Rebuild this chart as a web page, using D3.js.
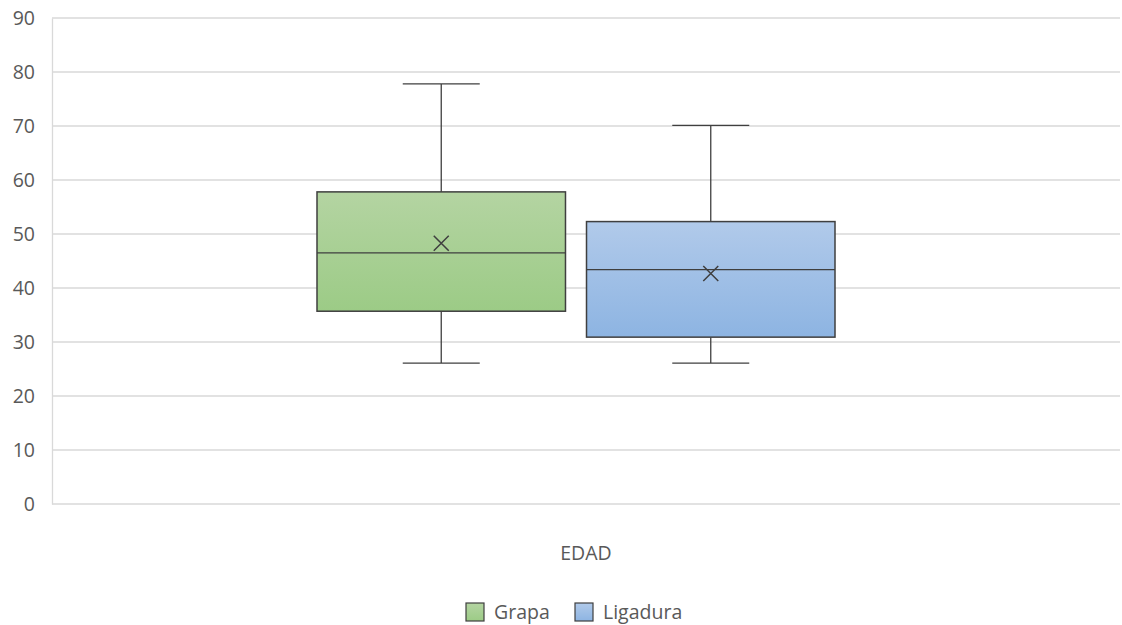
<!DOCTYPE html>
<html>
<head>
<meta charset="utf-8">
<script src="https://cdn.jsdelivr.net/npm/d3@7"></script>
<style>
  body { margin: 0; background: #fff; }
  svg text { font-family: "Open Sans", "DejaVu Sans", sans-serif; fill: #595959; }
</style>
</head>
<body>
<svg id="chart" width="1122" height="625"></svg>
<script>
// Age distribution per surgical technique
const categories = ["EDAD"];
const seriesNames = ["Grapa", "Ligadura"];
const minValues = [26.1, 26.1];
const q1Values = [35.7, 30.9];
const medianValues = [46.5, 43.4];
const q3Values = [57.8, 52.3];
const maxValues = [77.8, 70.1];
const meanValues = [48.3, 42.7];
const yTicks = [0, 10, 20, 30, 40, 50, 60, 70, 80, 90];

const fills = [["#b4d4a2", "#9ccb86"], ["#b1caea", "#8db4e2"]];
const strokeColor = "#3f3f3f";
const fontSize = "19.5px";

const svg = d3.select("#chart");
const plot = { left: 52, right: 1120, top: 18, bottom: 504 };

const y = d3.scaleLinear().domain([0, 90]).range([plot.bottom, plot.top]);
const x0 = d3.scaleBand().domain(categories).range([plot.left, plot.right]);
const x1 = d3.scaleBand().domain(seriesNames)
  .range([265, 783]).paddingInner(0.078);

// gradients
const defs = svg.append("defs");
seriesNames.forEach((s, i) => {
  const g = defs.append("linearGradient").attr("id", "grad" + i)
    .attr("x1", 0).attr("y1", 0).attr("x2", 0).attr("y2", 1);
  g.append("stop").attr("offset", "0%").attr("stop-color", fills[i][0]);
  g.append("stop").attr("offset", "100%").attr("stop-color", fills[i][1]);
});

// gridlines
svg.append("g").selectAll("line").data(yTicks).join("line")
  .attr("x1", plot.left).attr("x2", plot.right)
  .attr("y1", d => y(d)).attr("y2", d => y(d))
  .attr("stroke", "#d9d9d9").attr("stroke-width", 1.3);

// y axis
const yAxis = svg.append("g").attr("transform", `translate(${plot.left},0)`)
  .call(d3.axisLeft(y).tickValues(yTicks).tickSize(0).tickPadding(17));
yAxis.select(".domain").attr("stroke", "#d9d9d9").attr("stroke-width", 1.3);
yAxis.selectAll("text").style("font-size", fontSize).attr("fill", "#595959")
  .attr("dy", "0.35em");

// category label
svg.append("g").attr("transform", `translate(0,${plot.bottom})`)
  .call(d3.axisBottom(x0).tickSize(0).tickPadding(42))
  .call(g => g.select(".domain").remove())
  .selectAll("text").style("font-size", fontSize).attr("fill", "#595959");

const data = seriesNames.map((s, i) => ({
  name: s, i, min: minValues[i], q1: q1Values[i], med: medianValues[i],
  q3: q3Values[i], max: maxValues[i], mean: meanValues[i]
}));

const cat = categories[0];
const boxes = svg.append("g").selectAll("g").data(data).join("g")
  .attr("transform", d => `translate(${x0(cat) + x1(d.name)},0)`);

const bw = x1.bandwidth();
const capW = 77;

// whiskers
boxes.append("line").attr("x1", bw / 2).attr("x2", bw / 2)
  .attr("y1", d => y(d.max)).attr("y2", d => y(d.q3))
  .attr("stroke", strokeColor).attr("stroke-width", 1.3);
boxes.append("line").attr("x1", bw / 2).attr("x2", bw / 2)
  .attr("y1", d => y(d.q1)).attr("y2", d => y(d.min))
  .attr("stroke", strokeColor).attr("stroke-width", 1.3);
boxes.append("line").attr("x1", bw / 2 - capW / 2).attr("x2", bw / 2 + capW / 2)
  .attr("y1", d => y(d.max)).attr("y2", d => y(d.max))
  .attr("stroke", strokeColor).attr("stroke-width", 1.3);
boxes.append("line").attr("x1", bw / 2 - capW / 2).attr("x2", bw / 2 + capW / 2)
  .attr("y1", d => y(d.min)).attr("y2", d => y(d.min))
  .attr("stroke", strokeColor).attr("stroke-width", 1.3);

// boxes
boxes.append("rect").attr("x", 0).attr("width", bw)
  .attr("y", d => y(d.q3)).attr("height", d => y(d.q1) - y(d.q3))
  .attr("fill", d => `url(#grad${d.i})`)
  .attr("stroke", strokeColor).attr("stroke-width", 1.5);

// medians
boxes.append("line").attr("x1", 0).attr("x2", bw)
  .attr("y1", d => y(d.med)).attr("y2", d => y(d.med))
  .attr("stroke", strokeColor).attr("stroke-width", 1.3);

// mean markers
const mk = 7.5;
boxes.append("path")
  .attr("d", d => {
    const cx = bw / 2, cy = y(d.mean);
    return `M${cx - mk},${cy - mk}L${cx + mk},${cy + mk}M${cx - mk},${cy + mk}L${cx + mk},${cy - mk}`;
  })
  .attr("stroke", strokeColor).attr("stroke-width", 1.5).attr("fill", "none");

// legend
const legendX = [466, 575];
const legend = svg.append("g").selectAll("g").data(data).join("g")
  .attr("transform", (d, i) => `translate(${legendX[i]},603)`);
legend.append("rect").attr("width", 18).attr("height", 18)
  .attr("fill", d => `url(#grad${d.i})`)
  .attr("stroke", strokeColor).attr("stroke-width", 1.2);
legend.append("text").attr("x", 28).attr("y", 9).attr("dy", "0.35em")
  .style("font-size", fontSize).text(d => d.name);
</script>
</body>
</html>
